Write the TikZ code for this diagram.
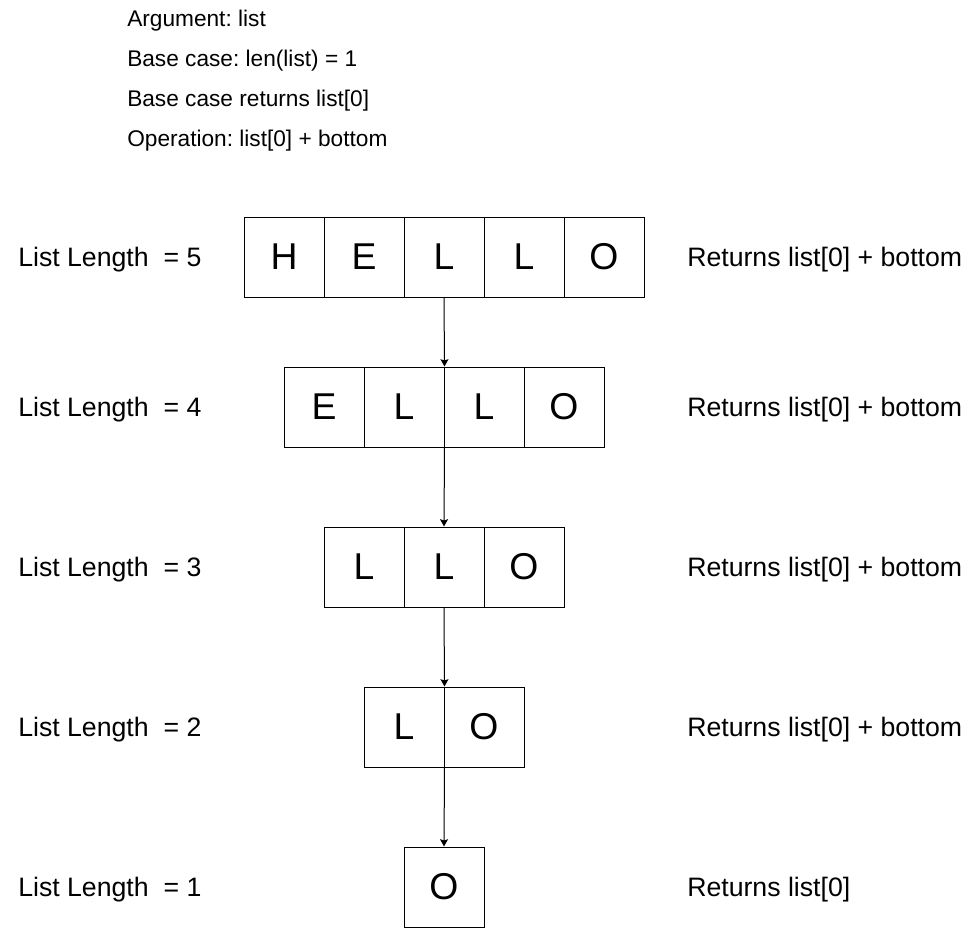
\documentclass[tikz,border=0pt]{standalone}
\usepackage{fontspec}
\setmainfont{Liberation Sans}
\usetikzlibrary{arrows.meta}
\frenchspacing
\begin{document}
\begin{tikzpicture}[x=0.75pt,y=-0.75pt,
  cell/.style={draw,line width=0.75pt,minimum width=60pt,minimum height=60pt,inner sep=0pt,font=\fontsize{28}{32}\selectfont},
  lenlabel/.style={anchor=base west,inner sep=0pt,font=\fontsize{20}{24}\selectfont},
  retlabel/.style={anchor=base west,inner sep=0pt,font=\fontsize{20}{24}\selectfont},
  info/.style={anchor=base west,inner sep=0pt,font=\fontsize{17}{20}\selectfont},
  link/.style={line width=0.75pt,-{Stealth[length=5.5pt,width=6pt,inset=1pt]}}]
\useasboundingbox (0,0) rectangle (979,932);
% header text
\node[info] (t1) at (127,26) {Argument: list};
\node[info] (t2) at (127,66) {Base case: len(list) = 1};
\node[info] (t3) at (127,106) {Base case returns list[0]};
\node[info] (t4) at (127,146) {Operation: list[0] + bottom};
% row 1
\node[cell] (r1c1) at (284,257) {H};
\node[cell] (r1c2) at (364,257) {E};
\node[cell] (r1c3) at (444,257) {L};
\node[cell] (r1c4) at (524,257) {L};
\node[cell] (r1c5) at (604,257) {O};
% row 2
\node[cell] (r2c1) at (324,407) {E};
\node[cell] (r2c2) at (404,407) {L};
\node[cell] (r2c3) at (484,407) {L};
\node[cell] (r2c4) at (564,407) {O};
% row 3
\node[cell] (r3c1) at (364,567) {L};
\node[cell] (r3c2) at (444,567) {L};
\node[cell] (r3c3) at (524,567) {O};
% row 4
\node[cell] (r4c1) at (404,727) {L};
\node[cell] (r4c2) at (484,727) {O};
% row 5
\node[cell] (r5c1) at (444,887) {O};
% labels
\node[lenlabel] (l1) at (18,266.5) {List Length\ \ = 5};
\node[lenlabel] (l2) at (18,416.5) {List Length\ \ = 4};
\node[lenlabel] (l3) at (18,576.5) {List Length\ \ = 3};
\node[lenlabel] (l4) at (18,736.5) {List Length\ \ = 2};
\node[lenlabel] (l5) at (18,896.5) {List Length\ \ = 1};
\node[retlabel] (q1) at (687,266.5) {Returns list[0] + bottom};
\node[retlabel] (q2) at (687,416.5) {Returns list[0] + bottom};
\node[retlabel] (q3) at (687,576.5) {Returns list[0] + bottom};
\node[retlabel] (q4) at (687,736.5) {Returns list[0] + bottom};
\node[retlabel] (q5) at (687,896.5) {Returns list[0]};
% connectors
\draw[link] (r1c3.south) -- (r2c2.north east);
\draw[link] (r2c2.south east) -- (r3c2.north);
\draw[link] (r3c2.south) -- (r4c1.north east);
\draw[link] (r4c1.south east) -- (r5c1.north);
\end{tikzpicture}
\end{document}
